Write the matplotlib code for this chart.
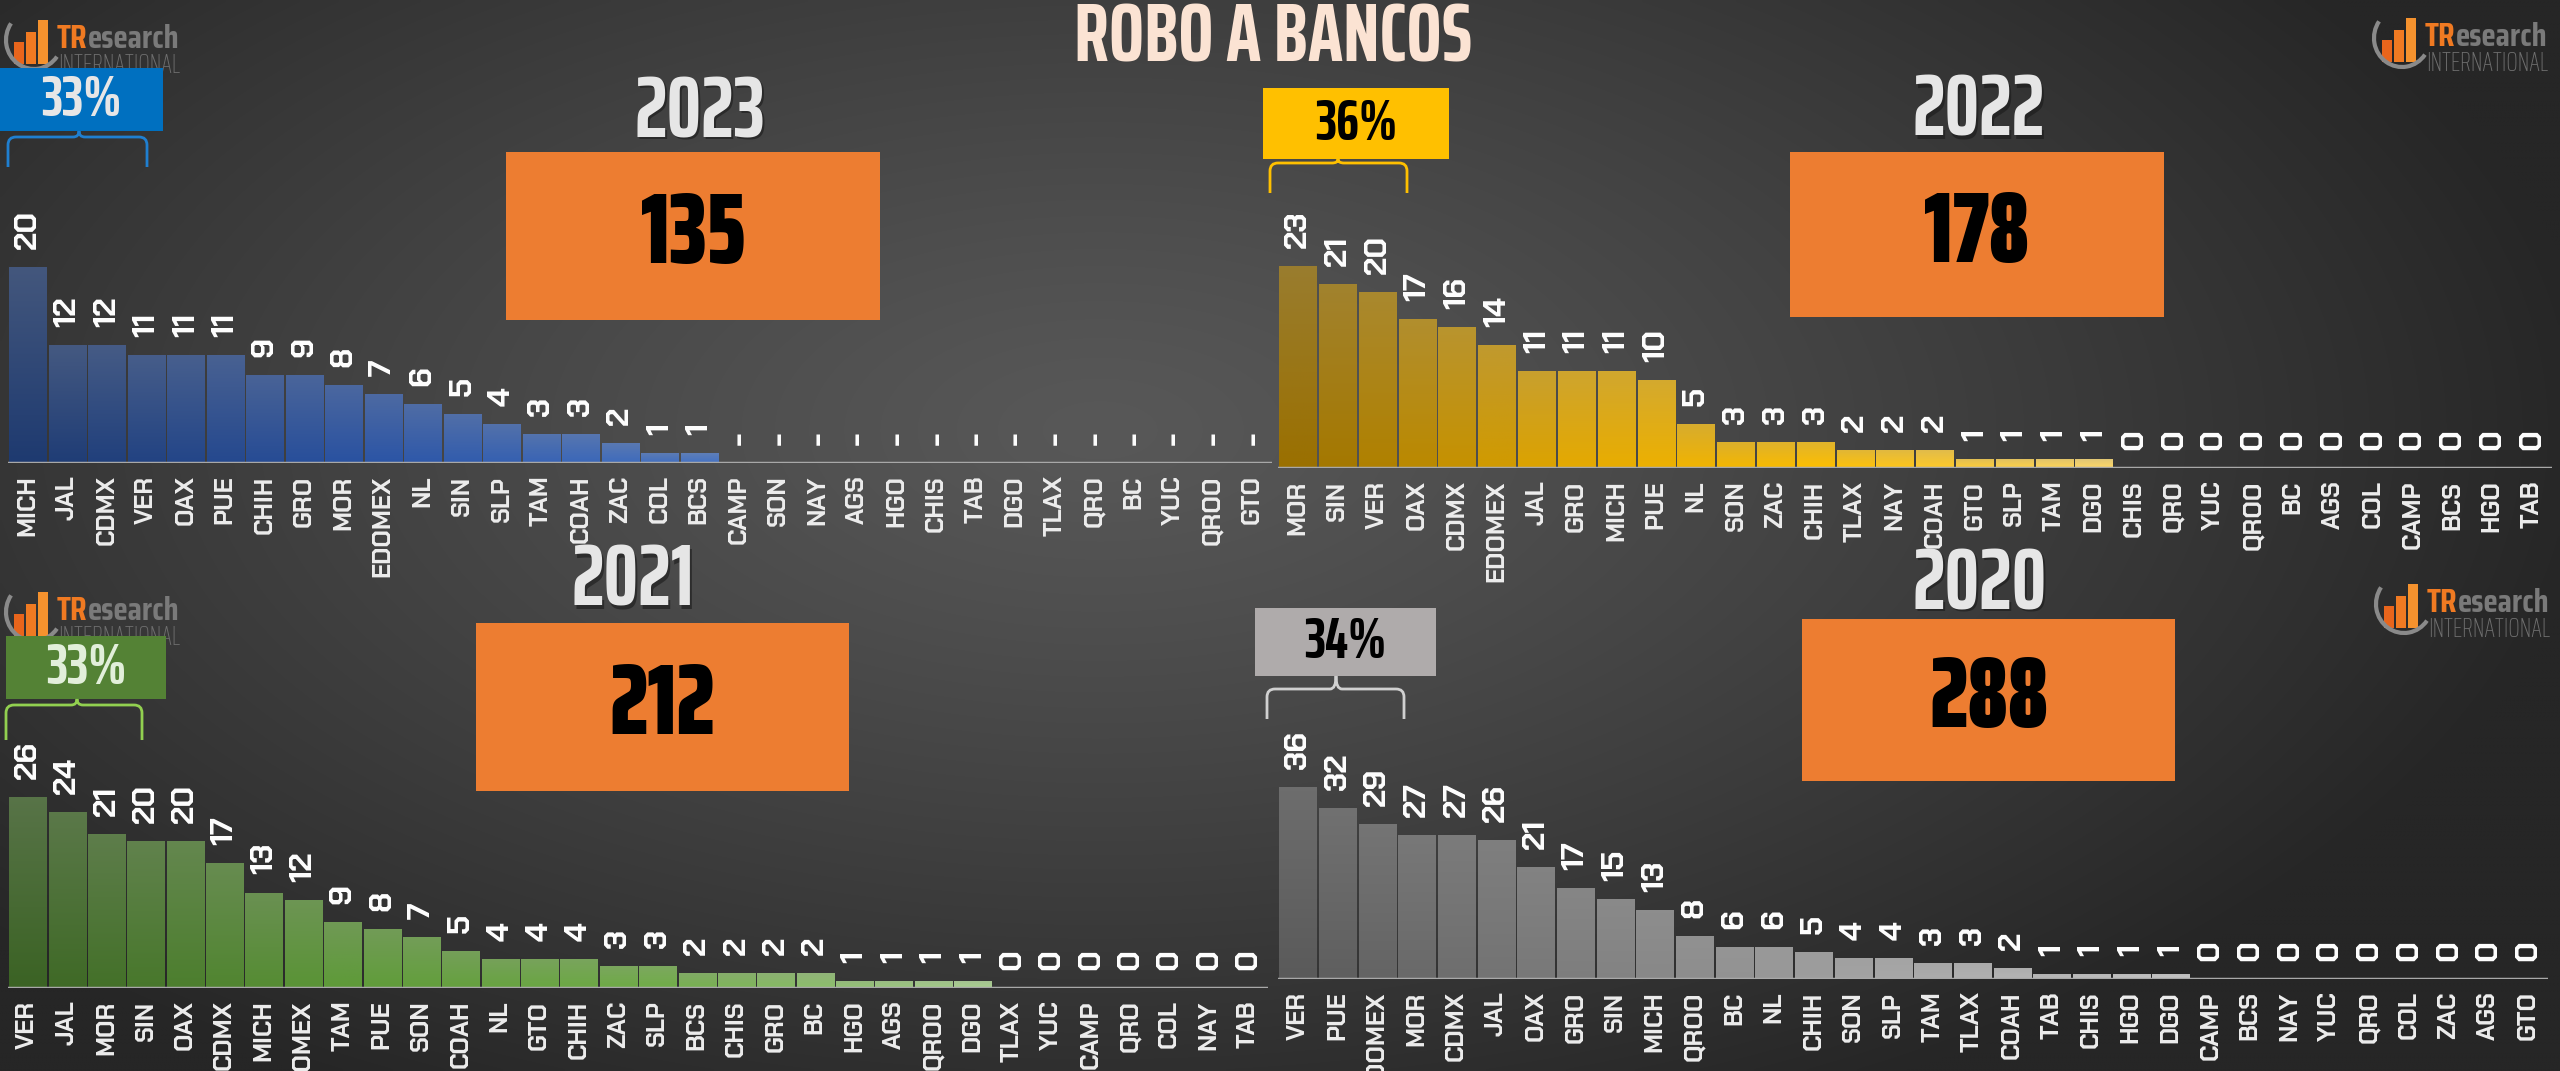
import numpy as np
import matplotlib.pyplot as plt
from matplotlib.colors import to_rgb
from matplotlib.patches import Rectangle, PathPatch, Arc
from matplotlib.path import Path

plt.rcParams['font.family'] = ['Chakra Petch', 'Saira Condensed', 'DejaVu Sans']
BIG = ['Saira ExtraCondensed', 'Bebas Neue', 'Oswald', 'DejaVu Sans']
LOGO = ['Saira Condensed', 'DejaVu Sans']

W, H = 2560, 1071

# ---- data (robo a bancos por estado) ----
states_2023 = ['MICH', 'JAL', 'CDMX', 'VER', 'OAX', 'PUE', 'CHIH', 'GRO', 'MOR', 'EDOMEX',
               'NL', 'SIN', 'SLP', 'TAM', 'COAH', 'ZAC', 'COL', 'BCS', 'CAMP', 'SON',
               'NAY', 'AGS', 'HGO', 'CHIS', 'TAB', 'DGO', 'TLAX', 'QRO', 'BC', 'YUC',
               'QROO', 'GTO']
vals_2023 = [20, 12, 12, 11, 11, 11, 9, 9, 8, 7, 6, 5, 4, 3, 3, 2, 1, 1,
             0, 0, 0, 0, 0, 0, 0, 0, 0, 0, 0, 0, 0, 0]

states_2022 = ['MOR', 'SIN', 'VER', 'OAX', 'CDMX', 'EDOMEX', 'JAL', 'GRO', 'MICH', 'PUE',
               'NL', 'SON', 'ZAC', 'CHIH', 'TLAX', 'NAY', 'COAH', 'GTO', 'SLP', 'TAM',
               'DGO', 'CHIS', 'QRO', 'YUC', 'QROO', 'BC', 'AGS', 'COL', 'CAMP', 'BCS',
               'HGO', 'TAB']
vals_2022 = [23, 21, 20, 17, 16, 14, 11, 11, 11, 10, 5, 3, 3, 3, 2, 2, 2, 1, 1, 1, 1,
             0, 0, 0, 0, 0, 0, 0, 0, 0, 0, 0]

states_2021 = ['VER', 'JAL', 'MOR', 'SIN', 'OAX', 'CDMX', 'MICH', 'EDOMEX', 'TAM', 'PUE',
               'SON', 'COAH', 'NL', 'GTO', 'CHIH', 'ZAC', 'SLP', 'BCS', 'CHIS', 'GRO',
               'BC', 'HGO', 'AGS', 'QROO', 'DGO', 'TLAX', 'YUC', 'CAMP', 'QRO', 'COL',
               'NAY', 'TAB']
vals_2021 = [26, 24, 21, 20, 20, 17, 13, 12, 9, 8, 7, 5, 4, 4, 4, 3, 3, 2, 2, 2, 2,
             1, 1, 1, 1, 0, 0, 0, 0, 0, 0, 0]

states_2020 = ['VER', 'PUE', 'EDOMEX', 'MOR', 'CDMX', 'JAL', 'OAX', 'GRO', 'SIN', 'MICH',
               'QROO', 'BC', 'NL', 'CHIH', 'SON', 'SLP', 'TAM', 'TLAX', 'COAH', 'TAB',
               'CHIS', 'HGO', 'DGO', 'CAMP', 'BCS', 'NAY', 'YUC', 'QRO', 'COL', 'ZAC',
               'AGS', 'GTO']
vals_2020 = [36, 32, 29, 27, 27, 26, 21, 17, 15, 13, 8, 6, 6, 5, 4, 4, 3, 3, 2,
             1, 1, 1, 1, 0, 0, 0, 0, 0, 0, 0, 0, 0]

years = ['2023', '2022', '2021', '2020']
totals = ['135', '178', '212', '288']
shares = ['33%', '36%', '33%', '34%']


def fx(x):
    return x / W


def fy(y):
    return 1 - y / H


def mix(c1, c2, t):
    a, b = np.array(to_rgb(c1)), np.array(to_rgb(c2))
    return a * (1 - t) + b * t


def ramp(stops, n):
    stops = np.array([to_rgb(s) for s in stops])
    pos = np.linspace(0, 1, len(stops))
    t = np.linspace(0, 1, max(n, 2))[:n]
    return [np.array([np.interp(v, pos, stops[:, k]) for k in range(3)]) for v in t]


fig = plt.figure(figsize=(W / 100, H / 100), dpi=100)

# background: dark radial gradient
bg = fig.add_axes([0, 0, 1, 1], zorder=-10)
yy, xx = np.mgrid[0:H:270j, 0:W:640j]
r = np.sqrt(((xx - 1100) / 1500) ** 2 + ((yy - 430) / 760) ** 2)
r = np.clip(r, 0, 1) ** 1.2
img = np.array(to_rgb('#585858'))[None, None, :] * (1 - r[..., None]) + \
    np.array(to_rgb('#262626'))[None, None, :] * r[..., None]
bg.imshow(img, extent=(0, W, H, 0), aspect='auto', interpolation='bilinear')
bg.set_xlim(0, W)
bg.set_ylim(H, 0)
bg.axis('off')

# panels: (states, values, x0, x1, baseline, bar_px, colour stops, zero label)
panels = [
    (states_2023, vals_2023, 8, 1272, 463, 196,
     ['#1E3A70', '#2A53A4', '#4472C4'], '-'),
    (states_2022, vals_2022, 1278, 2552, 468, 202,
     ['#9A7000', '#E3A800', '#FFC000', '#FFD966'], '0'),
    (states_2021, vals_2021, 8, 1268, 988, 191,
     ['#3B6324', '#5E9A38', '#70AD47', '#A9D18E'], '0'),
    (states_2020, vals_2020, 1278, 2548, 979, 192,
     ['#5A5A5A', '#7F7F7F', '#A6A6A6', '#C8C8C8'], '0'),
]

for states, vals, x0, x1, base, bar_px, stops, zero in panels:
    top = base - 320
    ax = fig.add_axes([fx(x0), fy(base), fx(x1 - x0), (base - top) / H])
    ax.patch.set_alpha(0)
    x = np.arange(len(states))
    nz = sum(1 for v in vals if v > 0)
    cols = ramp(stops, nz) + [np.array(to_rgb(stops[-1]))] * (len(vals) - nz)
    bars = ax.bar(x, vals, width=0.94, color=cols, linewidth=0, zorder=2)
    for rect, c in zip(bars, cols):
        h = rect.get_height()
        if h <= 0:
            continue
        grad = np.linspace(mix(c, '#9A9A9A', 0.3), c, 60)[:, None, :]
        im = ax.imshow(grad, extent=(rect.get_x(), rect.get_x() + rect.get_width(), 0, h),
                       origin='upper', aspect='auto', interpolation='bilinear', zorder=2)
        im.set_clip_path(rect)
    for xi, v in zip(x, vals):
        ax.annotate(str(v) if v else zero, (xi, v), xytext=(0, 13),
                    textcoords='offset points', rotation=90, ha='center', va='bottom',
                    fontsize=23, fontweight='bold', color='white', zorder=4)
    ax.axhline(0, color='#A8A8A8', lw=2.5, zorder=3)
    ax.set_xlim(-0.5, len(states) - 0.5)
    ax.set_ylim(0, max(vals) * (base - top) / bar_px)
    ax.set_xticks(x, states, rotation=90, fontsize=18, fontweight='bold', color='#EDEDED')
    ax.tick_params(axis='x', length=0, pad=9)
    ax.set_yticks([])
    for s in ax.spines.values():
        s.set_visible(False)

# title
fig.text(fx(1273), fy(61), 'ROBO A BANCOS', ha='center', va='baseline', family=BIG,
         fontsize=60, fontweight='bold', color='#FBE3D3')

# year labels (baseline positions) and total boxes
year_pos = [(700, 137), (1979, 136), (633, 606), (1980, 609)]
boxes = [(506, 152, 880, 320), (1790, 152, 2164, 317), (476, 623, 849, 791), (1802, 619, 2175, 781)]
for yr, (yx, yb_), tot, (bx0, by0, bx1, by1) in zip(years, year_pos, totals, boxes):
    fig.text(fx(yx + 2), fy(yb_ + 3), yr, ha='center', va='baseline', fontsize=62, family=BIG,
             fontweight='bold', color='#1A1A1A', alpha=0.6)
    fig.text(fx(yx), fy(yb_), yr, ha='center', va='baseline', fontsize=62, family=BIG,
             fontweight='bold', color='#E6E6E6')
    fig.add_artist(Rectangle((fx(bx0), fy(by1)), fx(bx1 - bx0), (by1 - by0) / H,
                             transform=fig.transFigure, facecolor='#ED7D31',
                             edgecolor='none', zorder=5))
    fig.text(fx((bx0 + bx1) / 2), fy((by0 + by1) / 2), tot, ha='center', va='center',
             fontsize=72, fontweight='black', family=BIG, color='black', zorder=6)


def draw_logo(x, y):
    ic = ['#E8651C', '#F07A22', '#F5922E']
    for i, hgt in enumerate([22, 32, 44]):
        fig.add_artist(Rectangle((fx(x + 10 + i * 12), fy(y + 52)), fx(10), hgt / H,
                                 transform=fig.transFigure, facecolor=ic[i],
                                 edgecolor='none', zorder=3))
    fig.add_artist(Arc((fx(x + 30), fy(y + 28)), fx(56), 58 / H, theta1=120, theta2=300,
                       transform=fig.transFigure, color='#8A8A8A', lw=3, zorder=3))
    t = fig.text(fx(x + 53), fy(y + 36), 'TR', ha='left', va='baseline', fontsize=24,
                 family=LOGO, fontweight='bold', color='#F07A22', zorder=3)
    bg.annotate('esearch', xy=(1, 0), xycoords=t, ha='left', va='bottom', fontsize=24,
                family=LOGO, fontweight='bold', color='#7A7A7A', zorder=3)
    fig.text(fx(x + 54), fy(y + 61), 'INTERNATIONAL', ha='left', va='baseline',
             fontsize=19, family=BIG, fontweight='light', color='#6E6E6E', zorder=3)


for lx, ly in [(4, 12), (2372, 10), (4, 584), (2374, 576)]:
    draw_logo(lx, ly)

# share boxes with braces
share_boxes = [(0, 68, 163, 131, '#0070C0', '#E7E6E6', '#1F7FD0', 8, 147, 79, 137, 167),
               (1263, 88, 1449, 159, '#FFC000', 'black', '#FFC000', 1270, 1407, 1338, 163, 193),
               (6, 636, 166, 699, '#548235', '#E2EFDA', '#92D050', 6, 142, 77, 705, 740),
               (1255, 608, 1436, 676, '#AFABAB', 'black', '#D0D0D0', 1267, 1404, 1336, 689, 719)]
for share, (bx0, by0, bx1, by1, fc, tc, lc, cx0, cx1, tip, yl, yb) in zip(shares, share_boxes):
    fig.add_artist(Rectangle((fx(bx0), fy(by1)), fx(bx1 - bx0), (by1 - by0) / H,
                             transform=fig.transFigure, facecolor=fc, edgecolor='none', zorder=5))
    fig.text(fx((bx0 + bx1) / 2), fy((by0 + by1) / 2), share, ha='center', va='center',
             fontsize=42, fontweight='bold', family=BIG, color=tc, zorder=6)
    ytop = by1
    rr = 8
    pts = [(cx0, yb), (cx0, yl + rr), (cx0, yl), (cx0 + rr, yl), (tip - 6, yl),
           (tip, yl), (tip, ytop), (tip, yl), (tip + 6, yl), (cx1 - rr, yl),
           (cx1, yl), (cx1, yl + rr), (cx1, yb)]
    codes = [Path.MOVETO, Path.LINETO, Path.CURVE3, Path.CURVE3, Path.LINETO,
             Path.CURVE3, Path.CURVE3, Path.CURVE3, Path.CURVE3, Path.LINETO,
             Path.CURVE3, Path.CURVE3, Path.LINETO]
    path = Path([(fx(px), fy(py)) for px, py in pts], codes)
    fig.add_artist(PathPatch(path, transform=fig.transFigure, facecolor='none',
                             edgecolor=lc, lw=2, zorder=5))

fig.savefig('out.png', dpi=100)
